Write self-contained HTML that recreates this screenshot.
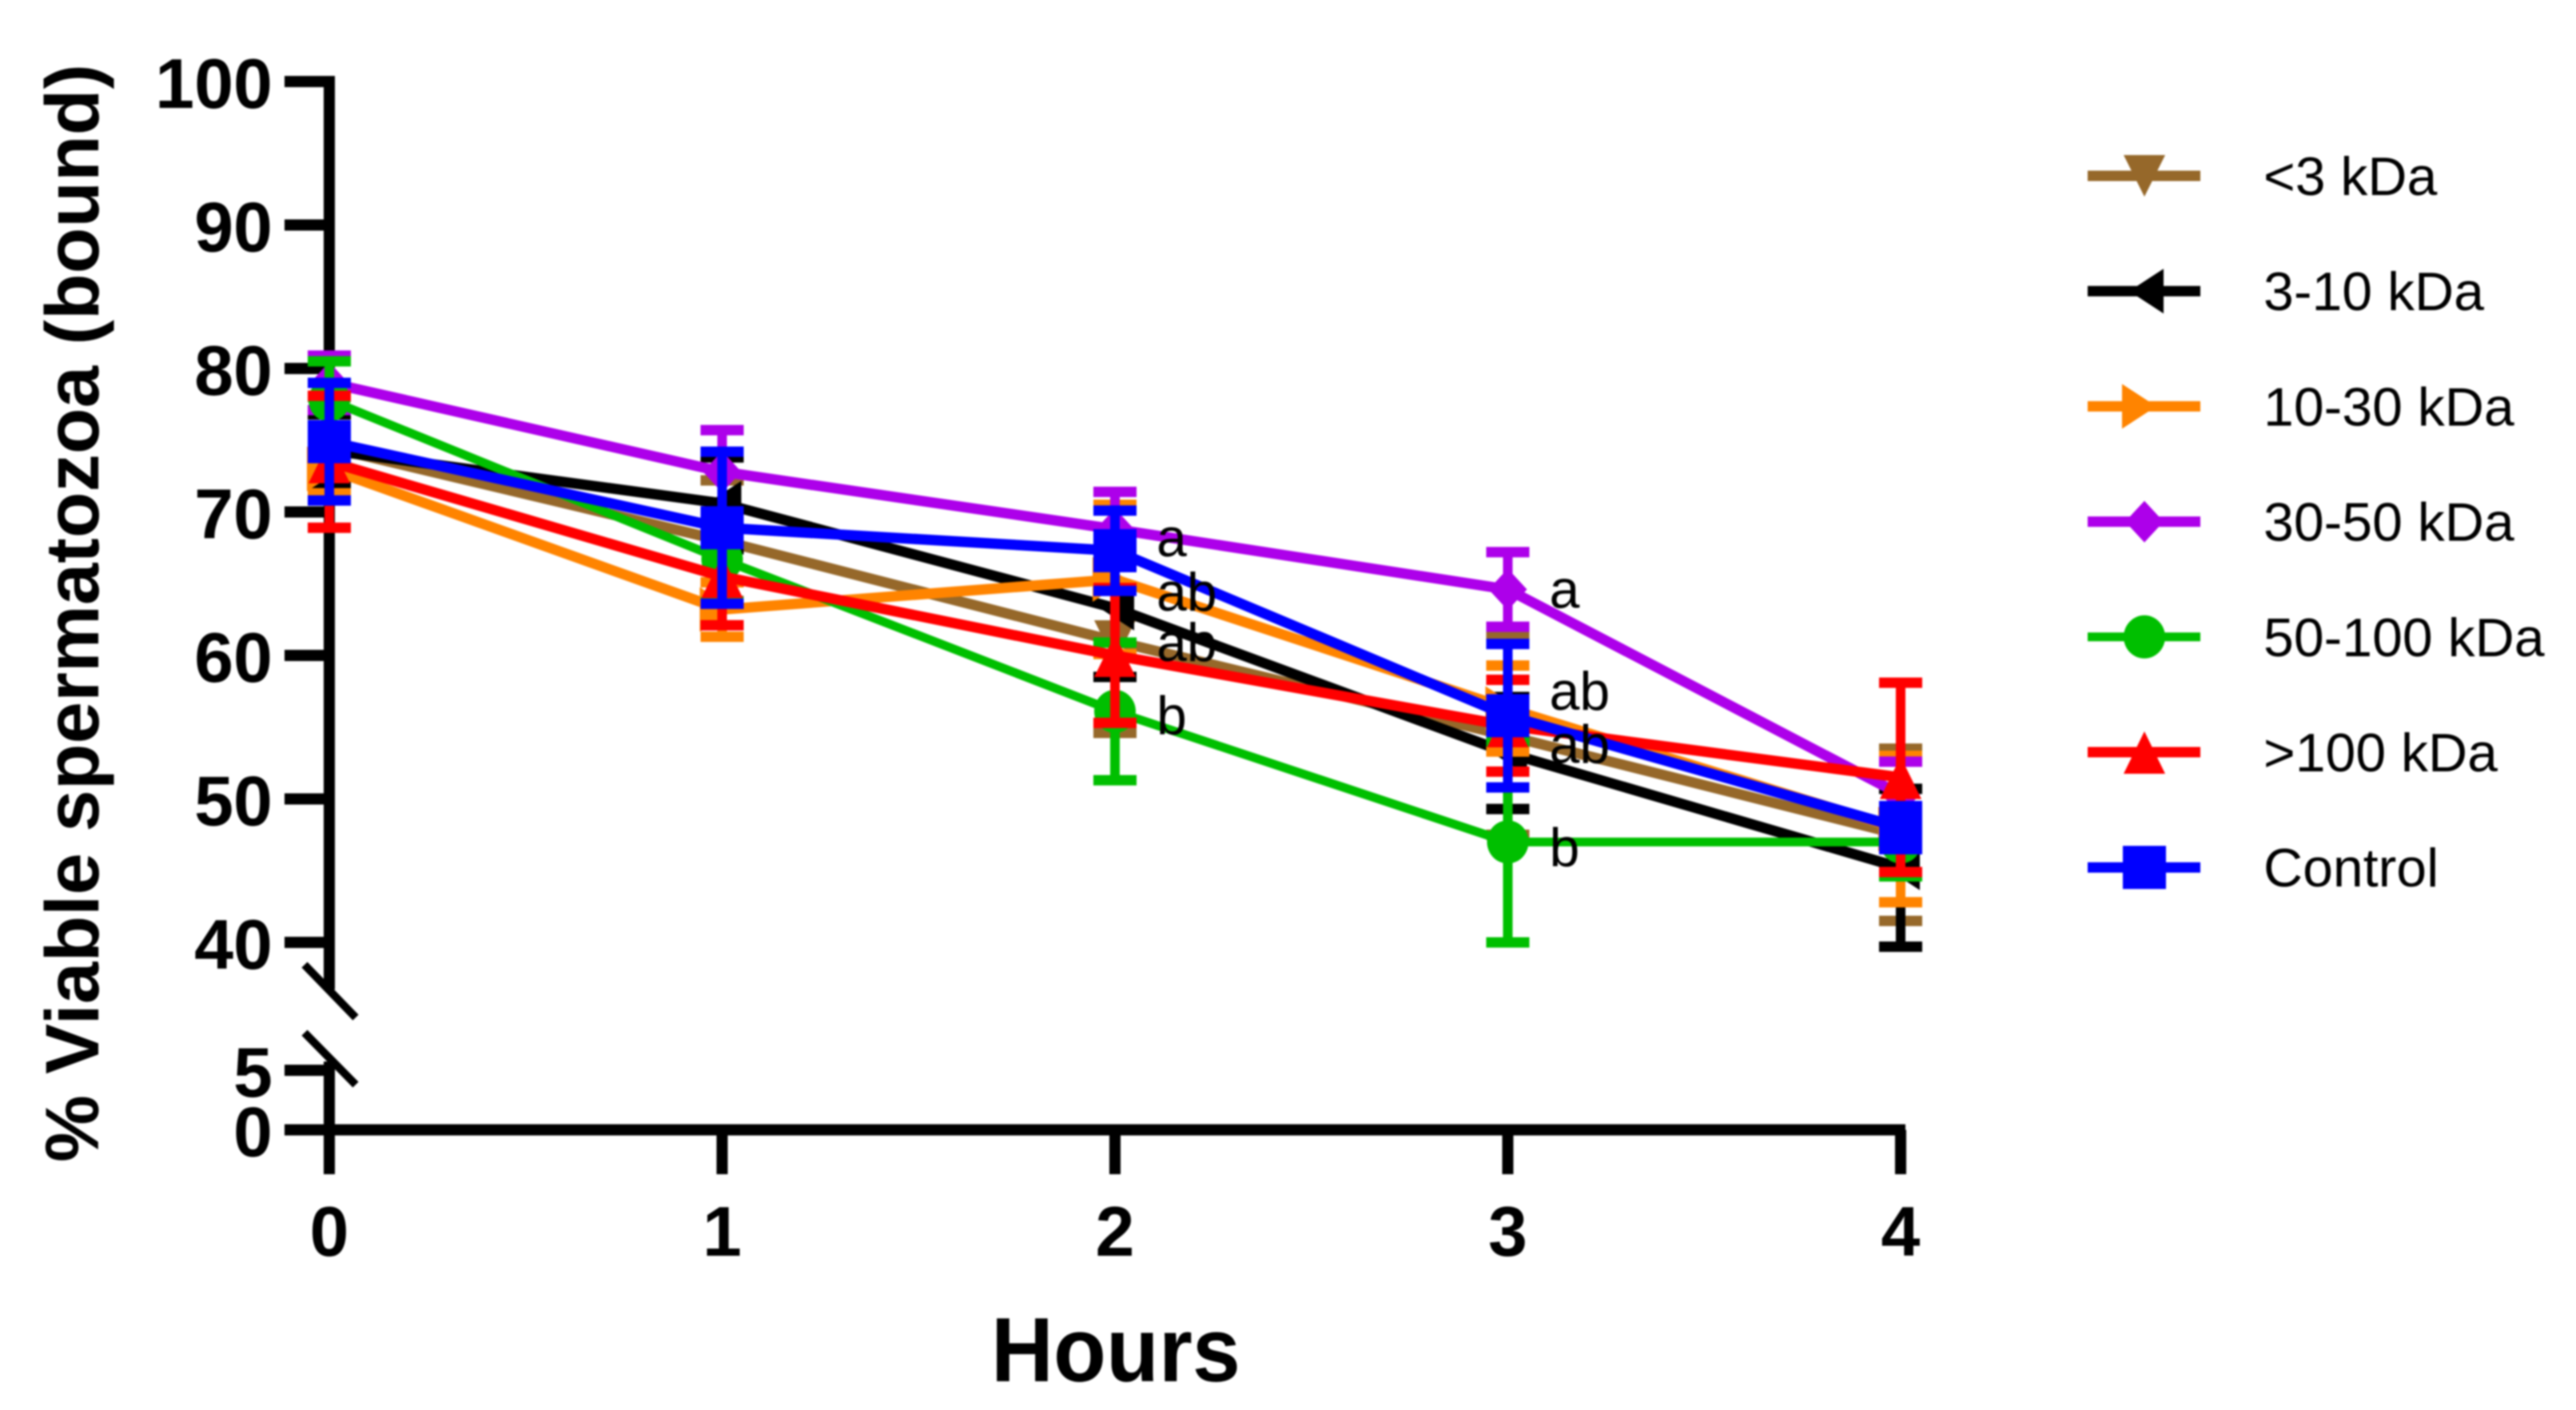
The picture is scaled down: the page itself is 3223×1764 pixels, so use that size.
<!DOCTYPE html>
<html>
<head>
<meta charset="utf-8">
<title>Viable spermatozoa (bound) over time</title>
<style>
html,body{margin:0;padding:0;background:#fff;width:3223px;height:1764px;overflow:hidden}
svg{display:block;filter:blur(1px)}
text{font-family:"Liberation Sans",sans-serif;fill:#000}
.tick{font-weight:700;font-size:88px}
.legend{font-size:68px}
.letter{font-size:68px}
</style>
</head>
<body>
<svg id="chart" xmlns="http://www.w3.org/2000/svg" width="3223" height="1764" viewBox="0 0 3223 1764">
  <rect x="0" y="0" width="3223" height="1764" fill="#fff"/>
  <g id="axes"></g>
  <g id="series"></g>
  <g id="letters"></g>
  <g id="legend"></g>
  <text x="123" y="767" text-anchor="middle" font-weight="700" font-size="94.5" transform="rotate(-90 123 767)">% Viable spermatozoa (bound)</text>
  <text text-anchor="middle" font-weight="700" font-size="108" transform="translate(1396 1728) scale(1 1.06)">Hours</text>
</svg>
<script>
var hours = [0, 1, 2, 3, 4];
var upperTicks = [100, 90, 80, 70, 60, 50, 40];
var lowerTicks = [5, 0];

var seriesNames = ['<3 kDa', '3-10 kDa', '10-30 kDa', '30-50 kDa', '50-100 kDa', '>100 kDa', 'Control'];

var meanBelow3 = [74.5, 68, 61, 54.4, 47.5];
var mean3to10 = [74.3, 70.6, 63.3, 53.2, 45.2];
var mean10to30 = [73, 63.2, 65.3, 56.3, 47.9];
var mean30to50 = [79, 72.8, 68.8, 64.6, 50.3];
var mean50to100 = [77.8, 66.7, 56.1, 47, 47];
var meanAbove100 = [73.5, 65.5, 60, 55.1, 51.5];
var meanControl = [74.9, 68.9, 67.3, 55.8, 48];

var sdBelow3 = [3.5, 4.2, 6.4, 6.9, 6];
var sd3to10 = [2.5, 3.2, 4.8, 3.9, 5.5];
var sd10to30 = [1.7, 1.9, 5.2, 3, 5.1];
var sd30to50 = [1.9, 2.9, 2.6, 2.6, 2.3];
var sd50to100 = [2.7, 3, 4.8, 7, 2.4];
var sdAbove100 = [4.6, 3.4, 4.7, 3.2, 6.6];
var sdControl = [4.1, 5.3, 2.8, 5, 1.5];

var letterLabels = ['a', 'ab', 'ab', 'b', 'a', 'ab', 'ab', 'b'];
var letterHours = [2, 2, 2, 2, 3, 3, 3, 3];
var letterValues = [68.2, 64.4, 60.9, 55.8, 64.6, 57.5, 53.8, 46.6];

var NS = 'http://www.w3.org/2000/svg';
function xScale(h) { return 412 + h * 491.5; }
function yScale(v) {
  if (v >= 20) return 1179 - (v - 40) * 17.95;
  return 1413.5 - v * 14.9;
}
function mk(tag, attrs, parent) {
  var e = document.createElementNS(NS, tag);
  for (var k in attrs) e.setAttribute(k, attrs[k]);
  parent.appendChild(e);
  return e;
}
function poly(points, cx, cy) {
  return points.map(function (p) { return (cx + p[0]) + ',' + (cy + p[1]); }).join(' ');
}
function drawMarker(kind, cx, cy, color, parent) {
  var el;
  if (kind === 'down') el = mk('polygon', { points: poly([[-26, -26], [26, -26], [0, 26]], cx, cy), fill: color }, parent);
  if (kind === 'left') el = mk('polygon', { points: poly([[24, -28], [24, 28], [-19, 0]], cx, cy), fill: color }, parent);
  if (kind === 'right') el = mk('polygon', { points: poly([[-28, -28], [-28, 28], [15, 0]], cx, cy), fill: color }, parent);
  if (kind === 'diamond') el = mk('polygon', { points: poly([[0, -26], [24, 0], [0, 26], [-24, 0]], cx, cy), fill: color }, parent);
  if (kind === 'circle') el = mk('ellipse', { cx: cx, cy: cy, rx: 26, ry: 27, fill: color }, parent);
  if (kind === 'up') el = mk('polygon', { points: poly([[0, -26], [26, 27], [-26, 27]], cx, cy), fill: color }, parent);
  if (kind === 'square') el = mk('rect', { x: cx - 27, y: cy - 27, width: 54, height: 54, fill: color }, parent);
  return el;
}

var seriesMeans = [meanBelow3, mean3to10, mean10to30, mean30to50, mean50to100, meanAbove100, meanControl];
var seriesSds = [sdBelow3, sd3to10, sd10to30, sd30to50, sd50to100, sdAbove100, sdControl];
var seriesColors = ['#96682a', '#000000', '#ff8400', '#ad00ea', '#00bf00', '#ff0000', '#0000ff'];
var seriesMarkers = ['down', 'left', 'right', 'diamond', 'circle', 'up', 'square'];
var seriesWidths = [13, 13, 13, 13, 11, 13, 13];

/* axes */
var axes = document.getElementById('axes');
var axisTopY = yScale(upperTicks[0]);
var upperAxis = mk('line', { x1: xScale(0), x2: xScale(0), y1: axisTopY - 7, y2: 1238, stroke: '#000', 'stroke-width': 14 }, axes);


var lowerAxis = mk('line', { x1: xScale(0), x2: xScale(0), y1: 1328, y2: 1469, stroke: '#000', 'stroke-width': 14 }, axes);


var xAxis = mk('line', { x1: 356, x2: xScale(4) + 6, y1: yScale(0), y2: yScale(0), stroke: '#000', 'stroke-width': 14 }, axes);


var breakTop = mk('line', { x1: 381, y1: 1207, x2: 445, y2: 1273, stroke: '#000', 'stroke-width': 10 }, axes);


var breakBottom = mk('line', { x1: 381, y1: 1292, x2: 445, y2: 1357, stroke: '#000', 'stroke-width': 10 }, axes);



upperTicks.concat(lowerTicks).forEach(function (v) {
  var y = yScale(v);
  var t = mk('line', { x1: 356, x2: xScale(0), y1: y, y2: y, stroke: '#000', 'stroke-width': 14 }, axes);
  
  
  var l = mk('text', { x: 341, y: y + 33, 'text-anchor': 'end', 'class': 'tick' }, axes);
  l.textContent = v;
  
  
});
hours.forEach(function (h) {
  var x = xScale(h);
  var t = mk('line', { x1: x, x2: x, y1: yScale(0), y2: 1469, stroke: '#000', 'stroke-width': 14 }, axes);
  
  
  var l = mk('text', { x: x, y: 1571, 'text-anchor': 'middle', 'class': 'tick' }, axes);
  l.textContent = h;
  
  
});

/* series */
var seriesRoot = document.getElementById('series');
seriesMeans.forEach(function (means, s) {
  var g = mk('g', {}, seriesRoot);
  
  
  var color = seriesColors[s];
  hours.forEach(function (h, i) {
    var x = xScale(h);
    var top = yScale(means[i] + seriesSds[s][i]);
    var bot = yScale(means[i] - seriesSds[s][i]);
    var stem = mk('line', { x1: x, x2: x, y1: top, y2: bot, stroke: color, 'stroke-width': 12 }, g);
    
    
    [top, bot].forEach(function (cy) {
      var cap = mk('line', { x1: x - 27, x2: x + 27, y1: cy, y2: cy, stroke: color, 'stroke-width': 13 }, g);
      
      
    });
  });
  var pts = hours.map(function (h, i) { return xScale(h) + ',' + yScale(means[i]); }).join(' ');
  var line = mk('polyline', { points: pts, fill: 'none', stroke: color, 'stroke-width': seriesWidths[s], 'stroke-linejoin': 'round' }, g);
  
  
  hours.forEach(function (h, i) {
    var m = drawMarker(seriesMarkers[s], xScale(h), yScale(means[i]), color, g);
    
    
  });
});

/* significance letters */
var lettersRoot = document.getElementById('letters');
letterLabels.forEach(function (txt, i) {
  var t = mk('text', { x: xScale(letterHours[i]) + 52, y: yScale(letterValues[i]) + 23, 'class': 'letter' }, lettersRoot);
  t.textContent = txt;
  
  
});

/* legend */
var legendRoot = document.getElementById('legend');
seriesNames.forEach(function (name, s) {
  var y = 220 + s * 144.2;
  var g = mk('g', {}, legendRoot);
  
  
  var sw = mk('line', { x1: 2612, x2: 2753, y1: y, y2: y, stroke: seriesColors[s], 'stroke-width': seriesWidths[s] }, g);
  
  
  var mm = drawMarker(seriesMarkers[s], 2683, y, seriesColors[s], g);
  
  
  var t = mk('text', { x: 2832, y: y + 24, 'class': 'legend' }, g);
  t.textContent = name;
  
  
});
</script>
</body>
</html>
